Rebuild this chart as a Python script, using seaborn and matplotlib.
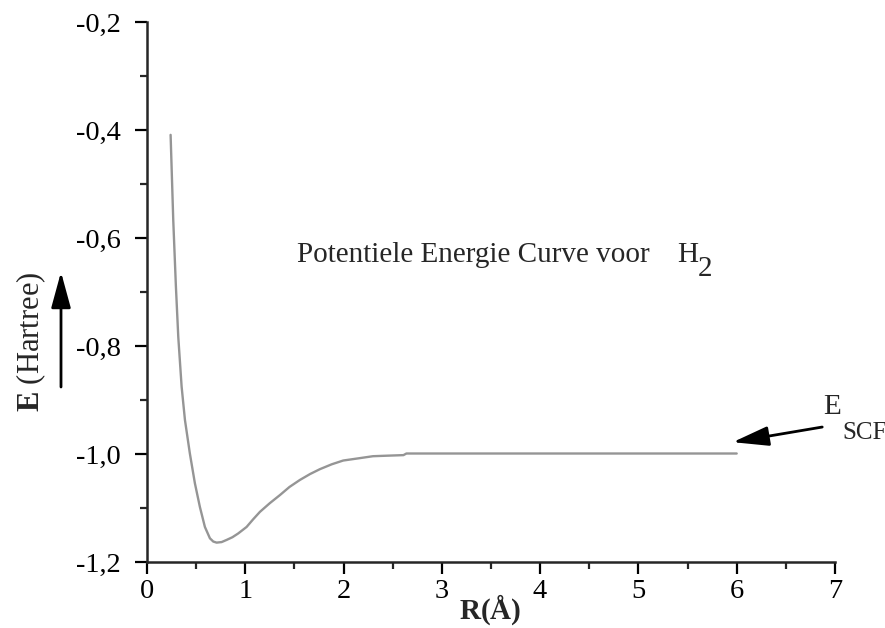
import numpy as np
import pandas as pd
import matplotlib
matplotlib.use('Agg')
import matplotlib.pyplot as plt
import seaborn as sns

# Values
r_values = [0.241, 0.268, 0.295, 0.319, 0.353, 0.387, 0.437, 0.488, 0.539, 0.590, 0.641,
            0.675, 0.709, 0.76, 0.811, 0.87, 0.929, 1.014, 1.08, 1.15, 1.25, 1.353, 1.45,
            1.556, 1.66, 1.76, 1.88, 1.997, 2.15, 2.30, 2.45, 2.61, 2.64, 3.0, 4.0, 5.0, 6.0]
e_values = [-0.409, -0.567, -0.690, -0.783, -0.875, -0.937, -0.999, -1.054, -1.098, -1.135,
            -1.156, -1.162, -1.164, -1.163, -1.159, -1.154, -1.147, -1.135, -1.121, -1.107,
            -1.091, -1.076, -1.061, -1.048, -1.037, -1.028, -1.019, -1.012, -1.008, -1.004,
            -1.003, -1.002, -0.999, -0.999, -0.999, -0.999, -0.999]
x_ticks = [0, 1, 2, 3, 4, 5, 6, 7]
y_ticks = [-1.2, -1.0, -0.8, -0.6, -0.4, -0.2]
y_tick_labels = ['-1,2', '-1,0', '-0,8', '-0,6', '-0,4', '-0,2']

df = pd.DataFrame({'R': r_values, 'E': e_values})

sns.set_style('ticks')
plt.rcParams['font.family'] = ['Liberation Serif', 'DejaVu Serif']
plt.rcParams['mathtext.fontset'] = 'custom'
plt.rcParams['mathtext.rm'] = 'Liberation Serif'
plt.rcParams['mathtext.bf'] = 'Liberation Serif:bold'

fig = plt.figure(figsize=(8.85, 6.28), dpi=100)
ax = fig.add_axes([0.166, 0.105, 0.7775, 0.86])

sns.lineplot(data=df, x='R', y='E', color='#959595', linewidth=1.7, ax=ax)

ax.set_xlim(0, 7)
ax.set_ylim(-1.2, -0.2)
ax.set_xticks(x_ticks)
ax.set_xticklabels([str(t) for t in x_ticks])
ax.set_yticks(y_ticks)
ax.set_yticklabels(y_tick_labels)
ax.set_xticks(np.arange(0.5, 7, 1), minor=True)
ax.set_yticks(np.arange(-1.1, -0.2, 0.2), minor=True)
ax.spines['top'].set_visible(False)
ax.spines['right'].set_visible(False)
for s in ['left', 'bottom']:
    ax.spines[s].set_linewidth(1.8)
ax.tick_params(axis='both', which='major', length=8.5, width=1.6, labelsize=20.5, colors='black')
ax.tick_params(axis='both', which='minor', length=5, width=1.6)
ax.tick_params(axis='y', which='major', pad=10)
ax.tick_params(axis='x', which='major', pad=4)
ax.set_xlabel('')
ax.set_ylabel('')

# annotation in the plot
ax.text(1.53, -0.644, 'Potentiele Energie Curve voor', fontsize=21, ha='left', va='baseline')
ax.text(5.39, -0.644, 'H', fontsize=21, ha='left', va='baseline')
ax.text(5.60, -0.670, '2', fontsize=21, ha='left', va='baseline')

# E_SCF label and arrow
ax.text(6.88, -0.925, 'E', fontsize=21, ha='left', va='baseline', clip_on=False)
ax.text(7.07, -0.972, 'SCF', fontsize=18, ha='left', va='baseline', clip_on=False)
ax.annotate('', xy=(5.96, -0.978), xytext=(6.87, -0.95), annotation_clip=False,
            arrowprops=dict(arrowstyle='-|>,head_length=1.1,head_width=0.3', mutation_scale=20,
                            lw=2, color='black', shrinkA=0, shrinkB=0))

# axis labels
fig.text(490 / 885, 1 - 619 / 628, r'$\mathbf{R(\AA)}$', fontsize=21, ha='center', va='baseline')
fig.text(31 / 885, 1 - 342 / 628, r'$\mathbf{E}$ (Hartree)', fontsize=22, rotation=90,
         ha='center', va='center')
ax.annotate('', xy=(61, 628 - 272), xytext=(61, 628 - 387), xycoords='figure pixels',
            textcoords='figure pixels',
            arrowprops=dict(arrowstyle='-|>,head_length=1.1,head_width=0.3', mutation_scale=20,
                            lw=2, color='black', shrinkA=0, shrinkB=0))

fig.savefig('out.png', dpi=100)
